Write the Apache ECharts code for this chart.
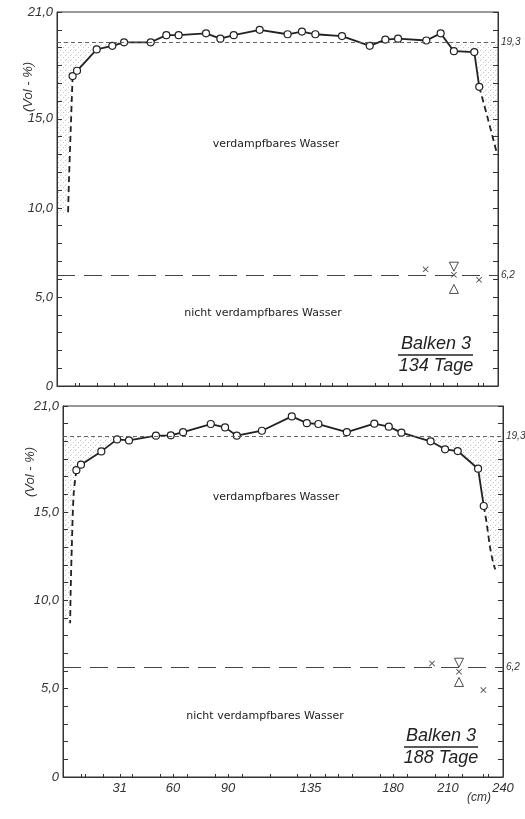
<!DOCTYPE html>
<html>
<head>
<meta charset="utf-8">
<script src="https://cdn.jsdelivr.net/npm/echarts@6/dist/echarts.min.js"></script>
<style>
html,body{margin:0;padding:0;background:#fff;}
#c{width:525px;height:819px;}
</style>
</head>
<body>
<div id="c"></div>
<script>
// ---- Data: Balken 3, 134 Tage (top panel)
const xTop = [8.5, 10.9, 21.6, 30.1, 36.5, 51, 59.5, 66.2, 81.1, 88.9, 96.2, 110.3, 125.5, 133.3, 140.6, 155.1, 170.2, 178.7, 185.6, 201, 208.8, 216, 227.1, 229.8];
const yTop = [17.4, 17.7, 18.9, 19.1, 19.3, 19.3, 19.7, 19.7, 19.8, 19.5, 19.7, 20.0, 19.75, 19.9, 19.75, 19.65, 19.1, 19.45, 19.5, 19.4, 19.8, 18.8, 18.75, 16.8];
const dashLeftTopX = [8.5, 7.5, 6.5, 6.0];
const dashLeftTopY = [17.4, 14.5, 11.5, 9.6];
const dashRightTopX = [229.8, 234.5, 239.3];
const dashRightTopY = [16.8, 15.0, 13.1];
const crossTop = [[200.6, 6.55], [216, 6.24], [229.7, 5.96]];
const triDownTop = [[216, 6.7]];
const triUpTop = [[216, 5.45]];

// ---- Data: Balken 3, 188 Tage (bottom panel)
const xBot = [7.3, 9.8, 20.9, 29.5, 36, 50.7, 58.8, 65.5, 80.6, 88.4, 94.8, 108.5, 124.8, 133, 139.3, 154.8, 169.8, 177.7, 184.6, 200.5, 208.4, 215.3, 226.4, 229.5];
const yBot = [17.37, 17.68, 18.43, 19.11, 19.05, 19.32, 19.34, 19.52, 19.98, 19.79, 19.32, 19.6, 20.41, 20.03, 19.98, 19.52, 20.0, 19.83, 19.49, 19.0, 18.55, 18.45, 17.45, 15.34];
const dashLeftBotX = [7.3, 5.8, 4.8, 4.2, 3.9];
const dashLeftBotY = [17.37, 16.0, 13.0, 10.6, 8.7];
const dashRightBotX = [229.5, 231.1, 232.9, 234.7, 235.8];
const dashRightBotY = [15.34, 14.36, 13.03, 12.1, 11.75];
const crossBot = [[201.3, 6.43], [216, 5.96], [229.3, 4.92]];
const triDownBot = [[216, 6.47]];
const triUpBot = [[216, 5.38]];

// ---- Reference levels and axis ticks
const refTotal = 19.3;
const refBound = 6.2;
const xTickValues = [10, 12, 22, 31, 38, 53, 60, 68, 83, 90, 98, 113, 128, 135, 143, 150, 158, 173, 180, 188, 203, 210, 218, 229, 232];
const xLabelValues = [31, 60, 90, 135, 180, 210, 240];
const yLabelValues = [0, 5, 10, 15, 21];

const zip = (a, b) => a.map((v, i) => [v, b[i]]);

function crossing(xs, ys, ref, fromRight) {
  const n = xs.length;
  if (!fromRight) {
    for (let i = 0; i < n - 1; i++) {
      if (ys[i] < ref && ys[i + 1] >= ref) {
        return { x: xs[i] + (ref - ys[i]) / (ys[i + 1] - ys[i]) * (xs[i + 1] - xs[i]), idx: i };
      }
    }
  } else {
    for (let i = n - 1; i > 0; i--) {
      if (ys[i] < ref && ys[i - 1] >= ref) {
        return { x: xs[i - 1] + (ys[i - 1] - ref) / (ys[i - 1] - ys[i]) * (xs[i] - xs[i - 1]), idx: i };
      }
    }
  }
}

function shadePolys(xs, ys, dlx, dly, drx, dry) {
  const L = crossing(xs, ys, refTotal, false);
  const left = [[0, refTotal], [L.x, refTotal]];
  for (let i = L.idx; i >= 0; i--) left.push([xs[i], ys[i]]);
  for (let i = 1; i < dlx.length; i++) left.push([dlx[i], dly[i]]);
  left.push([0, dly[dly.length - 1]]);
  const R = crossing(xs, ys, refTotal, true);
  const right = [[R.x, refTotal]];
  for (let i = R.idx; i < xs.length; i++) right.push([xs[i], ys[i]]);
  for (let i = 1; i < drx.length; i++) right.push([drx[i], dry[i]]);
  right.push([240, dry[dry.length - 1]]);
  right.push([240, refTotal]);
  return [left, right];
}

const polysTop = shadePolys(xTop, yTop, dashLeftTopX, dashLeftTopY, dashRightTopX, dashRightTopY);
const polysBot = shadePolys(xBot, yBot, dashLeftBotX, dashLeftBotY, dashRightBotX, dashRightBotY);

// stipple pattern
const pc = document.createElement('canvas');
pc.width = 5; pc.height = 5;
const pctx = pc.getContext('2d');
pctx.fillStyle = 'rgba(90,90,90,0.35)';
pctx.fillRect(0, 0, 1, 1);
pctx.fillRect(3, 2, 1, 1);
pctx.fillStyle = 'rgba(90,90,90,0.18)';
pctx.fillRect(1, 4, 1, 1);
const stipple = { image: pc, repeat: 'repeat' };

const INK = '#222';
const AX = '#333';
const labFont = { fontFamily: 'Liberation Sans', fontStyle: 'italic', color: '#333' };

const xCross = 'path://M0,1 L1,0 L5,4 L9,0 L10,1 L6,5 L10,9 L9,10 L5,6 L1,10 L0,9 L4,5 Z';

function xAxisDef(gi, showLabels) {
  return {
    type: 'value', gridIndex: gi, min: 0, max: 240,
    axisLine: { show: true, lineStyle: { color: AX, width: 1 } },
    splitLine: { show: false },
    axisTick: { show: true, inside: true, length: 3, customValues: xTickValues, lineStyle: { color: AX } },
    axisLabel: showLabels ? Object.assign({ show: true, customValues: xLabelValues, fontSize: 13, margin: 5, formatter: v => String(v) }, labFont) : { show: false }
  };
}
function yAxisDef(gi, pos) {
  const left = pos === 'left';
  return {
    type: 'value', gridIndex: gi, min: 0, max: 21, interval: 1, position: pos,
    axisLine: { show: true, lineStyle: { color: AX, width: 1 } },
    splitLine: { show: false },
    axisTick: { show: true, inside: true, length: 5, lineStyle: { color: AX } },
    axisLabel: left ? Object.assign({ show: true, customValues: yLabelValues, fontSize: 13, margin: 4,
      formatter: v => v === 0 ? '0' : v.toFixed(1).replace('.', ',') }, labFont) : { show: false }
  };
}

function panelSeries(gi, xs, ys, dlx, dly, drx, dry, crosses, tDown, tUp, polys) {
  const xi = gi, yi = gi * 2;
  return [
    {
      type: 'custom', xAxisIndex: xi, yAxisIndex: yi, z: 1, silent: true,
      data: polys.map((p, i) => [i]),
      renderItem: (params, api) => {
        const pts = polys[params.dataIndex].map(p => api.coord(p));
        return { type: 'polygon', shape: { points: pts }, style: { fill: stipple, stroke: null } };
      }
    },
    {
      type: 'line', xAxisIndex: xi, yAxisIndex: yi, data: [], z: 2, silent: true,
      markLine: {
        silent: true, symbol: 'none', animation: false,
        data: [
          { yAxis: refTotal, lineStyle: { color: '#555', width: 0.9, type: [4, 3] },
            label: { show: true, position: 'end', distance: 3, formatter: '19,3', fontSize: 10, fontFamily: 'Liberation Sans', fontStyle: 'italic', color: '#333' } },
          { yAxis: refBound, lineStyle: { color: '#444', width: 1, type: [18, 9] },
            label: { show: true, position: 'end', distance: 3, formatter: '6,2', fontSize: 10, fontFamily: 'Liberation Sans', fontStyle: 'italic', color: '#333' } }
        ]
      }
    },
    {
      type: 'line', xAxisIndex: xi, yAxisIndex: yi, data: zip(dlx, dly), z: 3, symbol: 'none', smooth: 0.3,
      lineStyle: { color: INK, width: 1.8, type: [6, 4] }, silent: true
    },
    {
      type: 'line', xAxisIndex: xi, yAxisIndex: yi, data: zip(drx, dry), z: 3, symbol: 'none', smooth: 0.3,
      lineStyle: { color: INK, width: 1.8, type: [6, 4] }, silent: true
    },
    {
      type: 'line', xAxisIndex: xi, yAxisIndex: yi, data: zip(xs, ys), z: 4,
      symbol: 'circle', symbolSize: 7, showAllSymbol: true,
      lineStyle: { color: INK, width: 1.8 },
      itemStyle: { color: '#fff', borderColor: INK, borderWidth: 1.2 }
    },
    {
      type: 'scatter', xAxisIndex: xi, yAxisIndex: yi, data: crosses, z: 5,
      symbol: xCross, symbolSize: 6, itemStyle: { color: INK }
    },
    {
      type: 'scatter', xAxisIndex: xi, yAxisIndex: yi, data: tDown, z: 5,
      symbol: 'triangle', symbolRotate: 180, symbolSize: 9,
      itemStyle: { color: '#fff', borderColor: INK, borderWidth: 1 }
    },
    {
      type: 'scatter', xAxisIndex: xi, yAxisIndex: yi, data: tUp, z: 5,
      symbol: 'triangle', symbolSize: 9,
      itemStyle: { color: '#fff', borderColor: INK, borderWidth: 1 }
    }
  ];
}

const txt = (x, y, text, size, extra) => ({
  type: 'text', x: x, y: y, silent: true,
  style: Object.assign({ text: text, fontSize: size, fontFamily: 'DejaVu Sans', fill: '#222', align: 'center', verticalAlign: 'middle' }, extra || {})
});

const chart = echarts.init(document.getElementById('c'), null, { renderer: 'canvas' });
chart.setOption({
  animation: false,
  backgroundColor: '#fff',
  grid: [
    { left: 57, right: 27, top: 12, bottom: 433, show: true, borderColor: AX, borderWidth: 1, backgroundColor: 'transparent' },
    { left: 63, right: 22, top: 406, bottom: 42, show: true, borderColor: AX, borderWidth: 1, backgroundColor: 'transparent' }
  ],
  xAxis: [xAxisDef(0, false), xAxisDef(1, true)],
  yAxis: [yAxisDef(0, 'left'), yAxisDef(0, 'right'), yAxisDef(1, 'left'), yAxisDef(1, 'right')],
  series: [].concat(
    panelSeries(0, xTop, yTop, dashLeftTopX, dashLeftTopY, dashRightTopX, dashRightTopY, crossTop, triDownTop, triUpTop, polysTop),
    panelSeries(1, xBot, yBot, dashLeftBotX, dashLeftBotY, dashRightBotX, dashRightBotY, crossBot, triDownBot, triUpBot, polysBot)
  ),
  graphic: [
    { type: 'text', x: 28, y: 87, rotation: Math.PI / 2, silent: true,
      style: { text: '(Vol - %)', fontSize: 13, fontFamily: 'Liberation Sans', fontStyle: 'italic', fill: '#333', align: 'center', verticalAlign: 'middle' } },
    { type: 'text', x: 30, y: 472, rotation: Math.PI / 2, silent: true,
      style: { text: '(Vol - %)', fontSize: 13, fontFamily: 'Liberation Sans', fontStyle: 'italic', fill: '#333', align: 'center', verticalAlign: 'middle' } },
    txt(276, 144, 'verdampfbares Wasser', 11),
    txt(263, 313, 'nicht verdampfbares Wasser', 11),
    txt(276, 497, 'verdampfbares Wasser', 11),
    txt(265, 716, 'nicht verdampfbares Wasser', 11),
    txt(436, 344, 'Balken 3', 18, { fontFamily: 'Liberation Sans', fontStyle: 'italic' }),
    { type: 'line', silent: true, shape: { x1: 398, y1: 355, x2: 473, y2: 355 }, style: { stroke: '#222', lineWidth: 1.3 } },
    txt(436, 366, '134 Tage', 18, { fontFamily: 'Liberation Sans', fontStyle: 'italic' }),
    txt(441, 736, 'Balken 3', 18, { fontFamily: 'Liberation Sans', fontStyle: 'italic' }),
    { type: 'line', silent: true, shape: { x1: 404, y1: 747, x2: 478, y2: 747 }, style: { stroke: '#222', lineWidth: 1.3 } },
    txt(441, 758, '188 Tage', 18, { fontFamily: 'Liberation Sans', fontStyle: 'italic' }),
    txt(479, 798, '(cm)', 12, { fontFamily: 'Liberation Sans', fontStyle: 'italic', fill: '#333' })
  ]
});
</script>
</body>
</html>
